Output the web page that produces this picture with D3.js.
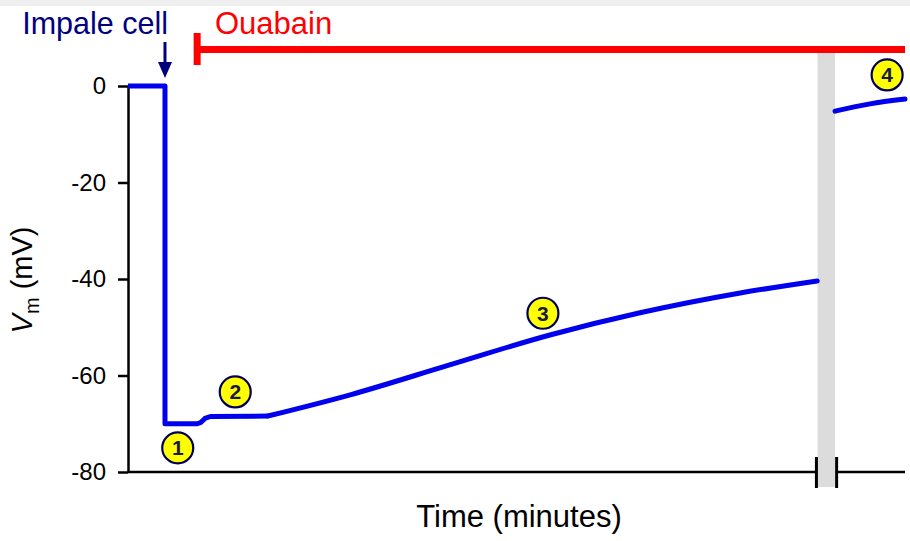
<!DOCTYPE html>
<html>
<head>
<meta charset="utf-8">
<script src="https://cdn.jsdelivr.net/npm/d3@7"></script>
<style>
  body { margin: 0; background: #fff; }
  svg { display: block; font-family: Arial, "Liberation Sans", sans-serif; }
</style>
</head>
<body>
<svg id="chart"></svg>
<script>
// recording before the gap (minutes, mV): impalement step, then slow depolarisation
const stepTime = [0, 4.76, 4.76, 8.9, 9.4, 9.9, 10.6, 18.0];
const stepVm   = [0, 0, -70, -70, -69.7, -68.9, -68.5, -68.4];
const riseTime = [18.0, 28.6, 41.4, 54.3, 65.9, 78.8, 88.7];
const riseVm   = [-68.4, -64.0, -57.8, -51.6, -47.0, -42.9, -40.4];
// recording after the gap
const lateTime = [91.0, 95.5, 100];
const lateVm   = [-5.2, -3.7, -2.7];

const markerTime  = [6.4, 13.8, 53.4, 97.7];
const markerVm    = [-75, -63.4, -47.1, 2.3];
const markerLabel = ["1", "2", "3", "4"];

const yTicks = [0, -20, -40, -60, -80];
const impaleTime = 4.76;
const ouabainStart = 8.9;
const gapStart = 88.75, gapEnd = 91.0;

const width = 910, height = 541;
const margin = { top: 86, left: 128, bottom: 69, right: 5 };

const svg = d3.select("#chart").attr("width", width).attr("height", height);

svg.append("rect").attr("width", width).attr("height", 6).attr("fill", "#efefef");

const x = d3.scaleLinear().domain([0, 100]).range([margin.left, width - margin.right]);
const y = d3.scaleLinear().domain([-80, 0]).range([height - margin.bottom, margin.top]);

// gap band
svg.append("rect")
  .attr("x", x(gapStart)).attr("width", x(gapEnd) - x(gapStart))
  .attr("y", 53).attr("height", y(-80) + 15 - 53)
  .attr("fill", "#dcdcdc");

// y axis
const yAxis = d3.axisLeft(y).tickValues(yTicks).tickFormat(d => String(d))
  .tickSize(10).tickSizeOuter(0).tickPadding(12);
const gy = svg.append("g").attr("transform", `translate(${margin.left},0)`).call(yAxis);
gy.selectAll("path, line").attr("stroke", "#000").attr("stroke-width", 2.5);
gy.selectAll("text").attr("font-size", 24).attr("fill", "#000")
  .attr("font-family", "Arial, 'Liberation Sans', sans-serif");

// x axis, broken
const xLine = d3.line().x(d => x(d)).y(y(-80));
svg.append("path").datum([0, gapStart - 0.15]).attr("d", xLine)
  .attr("stroke", "#000").attr("stroke-width", 2.5);
svg.append("path").datum([gapEnd + 0.2, 100]).attr("d", xLine)
  .attr("stroke", "#000").attr("stroke-width", 2.5);
svg.selectAll(".brk").data([gapStart - 0.15, gapEnd + 0.2]).enter().append("line")
  .attr("x1", d => x(d)).attr("x2", d => x(d))
  .attr("y1", y(-80) - 15).attr("y2", y(-80) + 16)
  .attr("stroke", "#000").attr("stroke-width", 3);

// trace
const blue = "#0000ee";
const line = d3.line().x(d => x(d[0])).y(d => y(d[1]));
const smooth = d3.line().curve(d3.curveMonotoneX).x(d => x(d[0])).y(d => y(d[1]));
svg.append("path").datum(stepTime.map((t, i) => [t, stepVm[i]])).attr("d", line)
  .attr("fill", "none").attr("stroke", blue).attr("stroke-width", 5)
  .attr("stroke-linejoin", "round");
svg.append("path").datum(riseTime.map((t, i) => [t, riseVm[i]])).attr("d", smooth)
  .attr("fill", "none").attr("stroke", blue).attr("stroke-width", 5)
  .attr("stroke-linecap", "round");
svg.append("path").datum(lateTime.map((t, i) => [t, lateVm[i]])).attr("d", smooth)
  .attr("fill", "none").attr("stroke", blue).attr("stroke-width", 5)
  .attr("stroke-linecap", "round");

// ouabain bar
const red = "#ff0000";
svg.append("line").attr("x1", x(ouabainStart)).attr("x2", x(100))
  .attr("y1", 49.5).attr("y2", 49.5).attr("stroke", red).attr("stroke-width", 7);
svg.append("line").attr("x1", x(ouabainStart)).attr("x2", x(ouabainStart))
  .attr("y1", 33).attr("y2", 65).attr("stroke", red).attr("stroke-width", 7);
svg.append("text").attr("x", 215).attr("y", 34)
  .attr("font-size", 31).attr("fill", red).text("Ouabain");

// impale arrow
const navy = "#00007f";
svg.append("line").attr("x1", x(impaleTime)).attr("x2", x(impaleTime))
  .attr("y1", 42).attr("y2", 66).attr("stroke", navy).attr("stroke-width", 3);
svg.append("path")
  .attr("d", `M${x(impaleTime) - 7},62 L${x(impaleTime) + 7},62 L${x(impaleTime)},78 Z`)
  .attr("fill", navy);
svg.append("text").attr("x", 168).attr("y", 34).attr("text-anchor", "end")
  .attr("font-size", 30.5).attr("fill", navy).text("Impale cell");

// numbered markers
const mk = svg.selectAll(".mk").data(markerLabel).enter().append("g")
  .attr("transform", (d, i) => `translate(${x(markerTime[i])},${y(markerVm[i])})`);
mk.append("circle").attr("r", 15.5).attr("fill", "#ffff00")
  .attr("stroke", "#00005a").attr("stroke-width", 2.2);
mk.append("text").attr("text-anchor", "middle").attr("dy", "0.36em")
  .attr("font-size", 21).attr("font-weight", "bold").attr("fill", "#1a1a40").text(d => d);

// axis titles
svg.append("text").attr("x", 519).attr("y", 527).attr("text-anchor", "middle")
  .attr("font-size", 31).attr("fill", "#000").text("Time (minutes)");
const yt = svg.append("text").attr("transform", "translate(32,280) rotate(-90)")
  .attr("text-anchor", "middle").attr("font-size", 29).attr("fill", "#000");
yt.append("tspan").attr("font-style", "italic").text("V");
yt.append("tspan").attr("font-size", 20).attr("dy", 7).text("m");
yt.append("tspan").attr("dy", -7).text(" (mV)");
</script>
</body>
</html>
